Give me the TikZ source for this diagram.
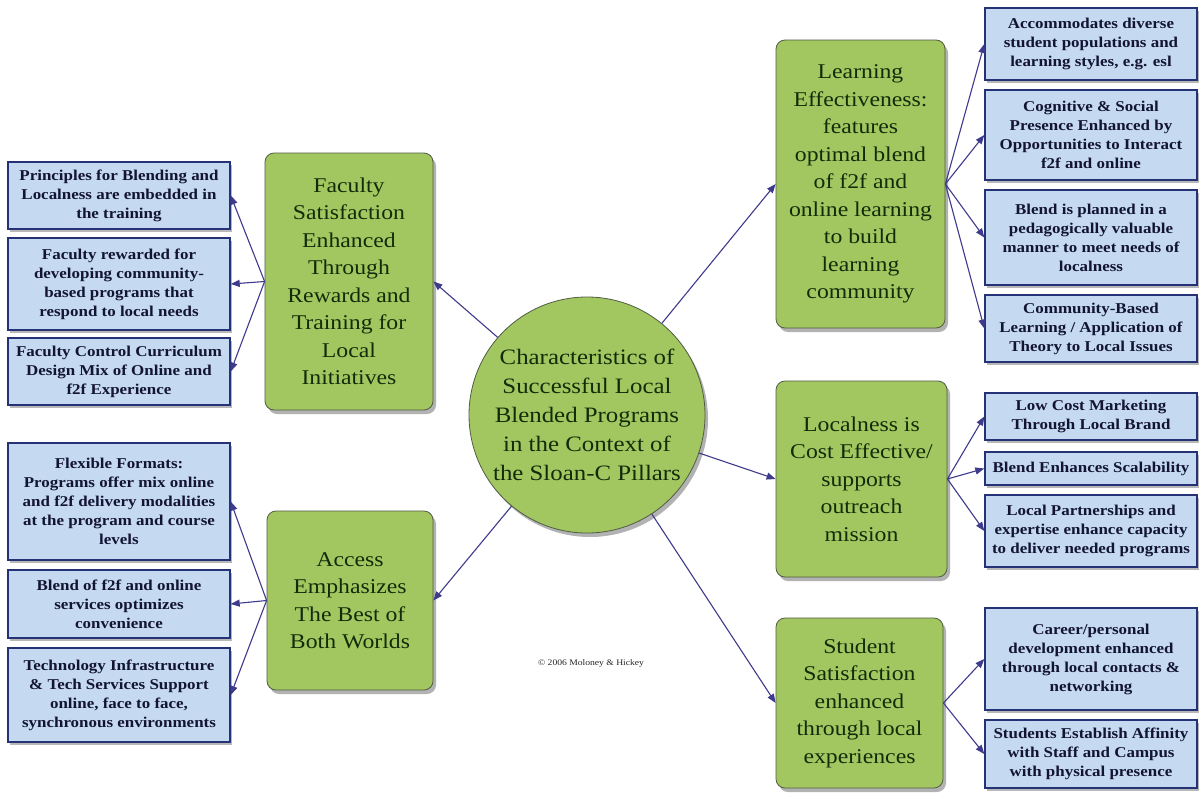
\documentclass[tikz,border=0pt]{standalone}
\usepackage{fontspec}
\setmainfont[FakeStretch=1.13]{Liberation Serif}
\usepackage{tikz}
\usetikzlibrary{arrows.meta,shadows}
\definecolor{leaf}{RGB}{163,199,96}
\definecolor{leafline}{RGB}{80,92,68}
\definecolor{leaftext}{RGB}{18,44,10}
\definecolor{sky}{RGB}{197,217,241}
\definecolor{skyline}{RGB}{38,50,118}
\definecolor{skytext}{RGB}{18,20,50}
\definecolor{linkc}{RGB}{62,58,140}
\tikzset{
    hub/.style={circle, draw=leafline, fill=leaf, line width=0.8pt, text=leaftext, align=center, inner sep=0pt, minimum size=236pt, font=\fontsize{22}{29}\selectfont, drop shadow={shadow xshift=3pt, shadow yshift=-4pt, fill=black!60}}, % central circle
    pillar/.style={draw=leafline, fill=leaf, rounded corners=9pt, line width=0.8pt, text=leaftext, align=center, inner sep=0pt, font=\fontsize{21}{27.5}\selectfont, drop shadow={shadow xshift=3pt, shadow yshift=-4pt, fill=black!60}}, % green pillar boxes
    detail/.style={draw=skyline, fill=sky, line width=1.4pt, text=skytext, align=center, inner sep=0pt, font=\bfseries\fontsize{15}{19}\selectfont, drop shadow={shadow xshift=2pt, shadow yshift=-3pt, fill=black!55}}, % blue detail boxes
    link/.style={draw=linkc, line width=1.1pt, -{Triangle[length=9pt, width=7pt]}} % connectors
}
\begin{document}
\begin{tikzpicture}[x=1pt, y=-1pt]
    \def\lx{119} \def\lw{222} \def\rx{1091} \def\rw{212}
    \useasboundingbox[fill=white] (0,0) rectangle (1201,798);

    \node[hub] (hub) at (587,415) {Characteristics of\\Successful Local\\Blended Programs\\in the Context of\\the Sloan-C Pillars};

    \node[pillar, minimum width=168pt, minimum height=257pt] (fac) at (349,281.5) {Faculty\\Satisfaction\\Enhanced\\Through\\Rewards and\\Training for\\Local\\Initiatives};
    \node[pillar, minimum width=166pt, minimum height=179pt] (acc) at (350,600.5) {Access\\Emphasizes\\The Best of\\Both Worlds};
    \node[pillar, minimum width=169pt, minimum height=288pt] (learn) at (860.5,184) {Learning\\Effectiveness:\\features\\optimal blend\\of f2f and\\online learning\\to build\\learning\\community};
    \node[pillar, minimum width=171pt, minimum height=196pt] (loc) at (861.5,479) {Localness is\\Cost Effective/\\supports\\outreach\\mission};
    \node[pillar, minimum width=167pt, minimum height=170pt] (stu) at (859.5,703) {Student\\Satisfaction\\enhanced\\through local\\experiences};

    \node[detail, minimum width=\lw pt, minimum height=67pt] (fac1) at (\lx,195.5) {Principles for Blending and\\Localness are embedded in\\the training};
    \node[detail, minimum width=\lw pt, minimum height=92pt] (fac2) at (\lx,284) {Faculty rewarded for\\developing community-\\based programs that\\respond to local needs};
    \node[detail, minimum width=\lw pt, minimum height=67pt] (fac3) at (\lx,371.5) {Faculty Control Curriculum\\Design Mix of Online and\\f2f Experience};
    \node[detail, minimum width=\lw pt, minimum height=117pt] (acc1) at (\lx,501.5) {Flexible Formats:\\Programs offer mix online\\and f2f delivery modalities\\at the program and course\\levels};
    \node[detail, minimum width=\lw pt, minimum height=68pt] (acc2) at (\lx,604) {Blend of f2f and online\\services optimizes\\convenience};
    \node[detail, minimum width=\lw pt, minimum height=94pt] (acc3) at (\lx,695) {Technology Infrastructure\\\& Tech Services Support\\online, face to face,\\synchronous environments};

    \node[detail, minimum width=\rw pt, minimum height=72pt] (learn1) at (\rx,44) {Accommodates diverse\\student populations and\\learning styles, e.g. esl};
    \node[detail, minimum width=\rw pt, minimum height=90pt] (learn2) at (\rx,135) {Cognitive \& Social\\Presence Enhanced by\\Opportunities to Interact\\f2f and online};
    \node[detail, minimum width=\rw pt, minimum height=95pt] (learn3) at (\rx,237.5) {Blend is planned in a\\pedagogically valuable\\manner to meet needs of\\localness};
    \node[detail, minimum width=\rw pt, minimum height=67pt] (learn4) at (\rx,328.5) {Community-Based\\Learning / Application of\\Theory to Local Issues};
    \node[detail, minimum width=\rw pt, minimum height=47pt] (loc1) at (\rx,416.5) {Low Cost Marketing\\Through Local Brand};
    \node[detail, minimum width=\rw pt, minimum height=33pt] (loc2) at (\rx,468.5) {Blend Enhances Scalability};
    \node[detail, minimum width=\rw pt, minimum height=72pt] (loc3) at (\rx,531) {Local Partnerships and\\expertise enhance capacity\\to deliver needed programs};
    \node[detail, minimum width=\rw pt, minimum height=102pt] (stu1) at (\rx,659) {Career/personal\\development enhanced\\through local contacts \&\\networking};
    \node[detail, minimum width=\rw pt, minimum height=68pt] (stu2) at (\rx,754) {Students Establish Affinity\\with Staff and Campus\\with physical presence};

    \node[font=\fontsize{8.5}{10}\selectfont, text=black!85] (credit) at (591,663) {\textcopyright{} 2006 Moloney \& Hickey};

    \draw[link] (hub) -- (fac.east);
    \draw[link] (hub) -- (acc.east);
    \draw[link] (hub) -- (learn.west);
    \draw[link] (hub) -- (loc.west);
    \draw[link] (hub) -- (stu.west);
    \foreach \t in {fac1,fac2,fac3} {\draw[link] (fac.west) -- (\t.east);}
    \foreach \t in {acc1,acc2,acc3} {\draw[link] (acc.west) -- (\t.east);}
    \foreach \t in {learn1,learn2,learn3,learn4} {\draw[link] (learn.east) -- (\t.west);}
    \foreach \t in {loc1,loc2,loc3} {\draw[link] (loc.east) -- (\t.west);}
    \foreach \t in {stu1,stu2} {\draw[link] (stu.east) -- (\t.west);}
\end{tikzpicture}
\end{document}
